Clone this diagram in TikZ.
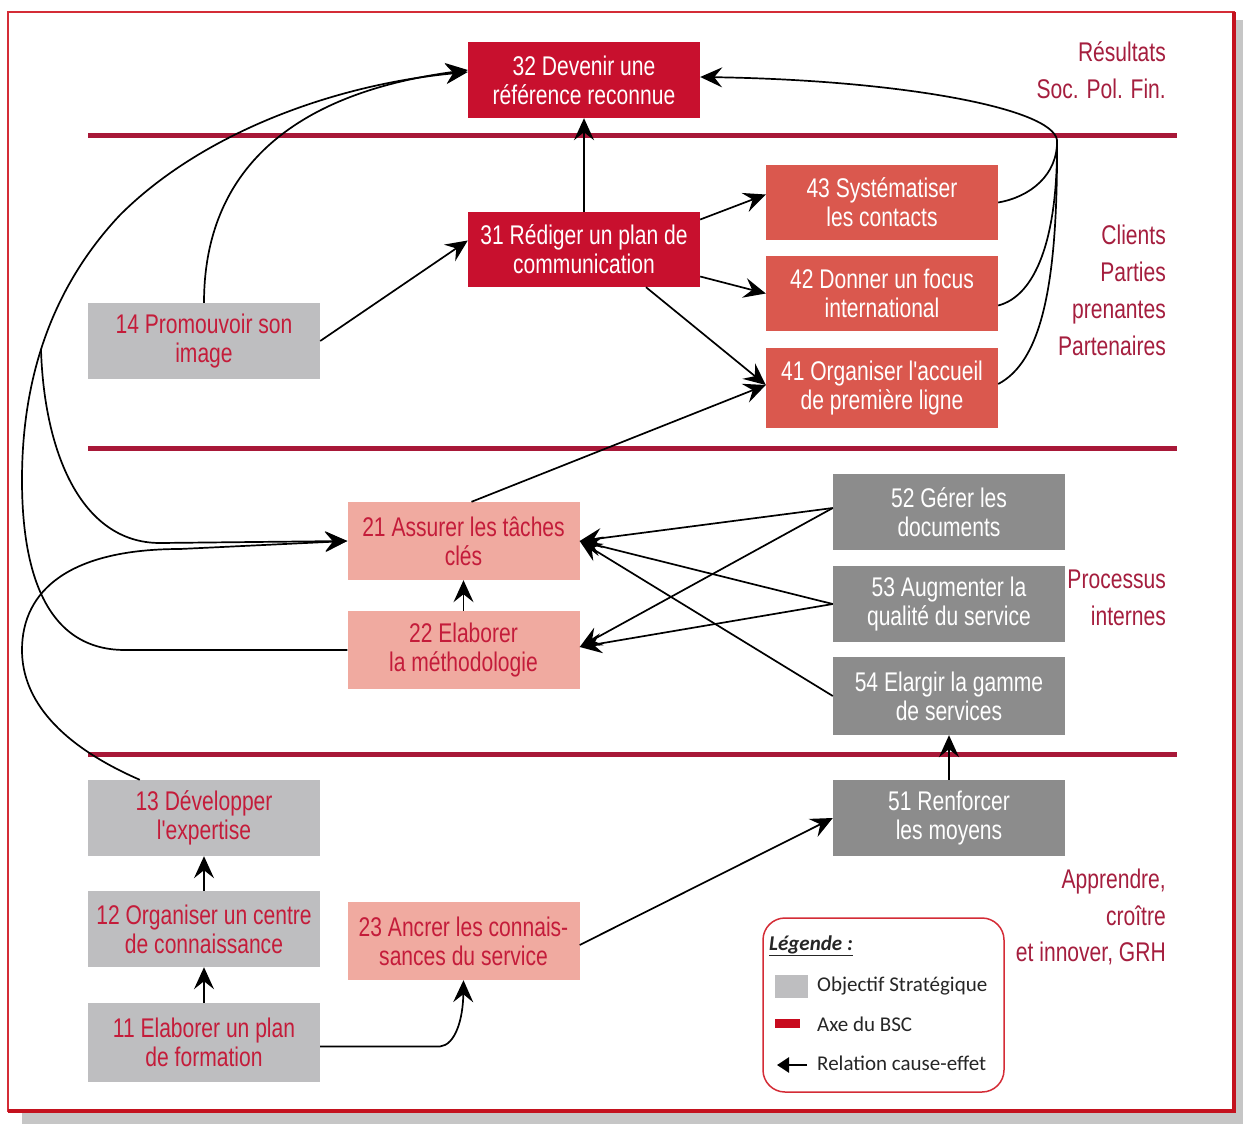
\documentclass[tikz,border=0pt]{standalone}
\usepackage{fontspec}
\usetikzlibrary{arrows.meta,calc}
\newfontfamily\condfont[FakeStretch=0.78]{Liberation Sans}
\newfontfamily\legfont{Carlito}
\definecolor{bscRed}{RGB}{200,16,46}
\definecolor{bscMid}{RGB}{218,88,78}
\definecolor{bscSalmon}{RGB}{240,170,160}
\definecolor{bscLight}{RGB}{190,190,192}
\definecolor{bscDark}{RGB}{140,140,140}
\definecolor{axisRed}{RGB}{168,24,56}
\definecolor{txtRed}{RGB}{196,28,58}
\definecolor{lblRed}{RGB}{165,30,62}
\definecolor{frameRed}{RGB}{212,44,54}
\definecolor{frameDark}{RGB}{196,18,30}
\definecolor{shadowGray}{RGB}{198,198,198}
\definecolor{legBar}{RGB}{200,10,30}

\begin{document}
\begin{tikzpicture}[x=1pt,y=-1pt,
  box/.style={rectangle, minimum width=232pt, minimum height=76pt, inner sep=0pt,
    align=center, font=\condfont\fontsize{27}{29}\selectfont},
  resbox/.style={box, fill=bscRed, text=white},
  clibox/.style={box, fill=bscMid, text=white},
  probox/.style={box, fill=bscSalmon, text=txtRed},
  objbox/.style={box, fill=bscLight, text=txtRed},
  resgray/.style={box, fill=bscDark, text=white},
  axisline/.style={axisRed, line width=5pt},
  link/.style={black, line width=1.7pt},
  arr/.style={link, -{Stealth[length=22pt,width=20pt,inset=8pt]}},
  lbl/.style={anchor=base east, inner sep=0pt, text=lblRed,
    font=\condfont\fontsize{27}{29}\selectfont},
  legtxt/.style={anchor=west, inner sep=0pt, text=black!85,
    font=\legfont\fontsize{21}{24}\selectfont}
]
\useasboundingbox (0,0) rectangle (1243,1124);

% page, drop shadow and frame
\fill[white] (0,0) rectangle (1243,1124);
\fill[shadowGray] (22,20) rectangle (1243,1124);
\fill[white] (8,12) rectangle (1234,1111);
\draw[frameRed, line width=1.6pt] (8,12) rectangle (1234,1111);
\draw[frameDark, line width=3.5pt] (1234,12) -- (1234,1111) -- (8,1111);

% BSC axes
\draw[axisline] (88,135) -- (1177,135);
\draw[axisline] (88,448) -- (1177,448);
\draw[axisline] (88,754) -- (1177,754);

% perspective labels
\foreach \txt/\yy [count=\i] in {Résultats/62, Soc. Pol. Fin./99,
    Clients/244, Parties/281, prenantes/318, Partenaires/355,
    Processus/588, internes/625,
    {Apprendre,}/888, croître/925, {et innover, GRH}/961}
  \node[lbl] (lab\i) at (1166,\yy) {\txt};

% objectives
\node[resbox] (n32) at (584,80) {32 Devenir une\\référence reconnue};
\node[resbox, minimum height=75pt] (n31) at (584,249.5) {31 Rédiger un plan de\\communication};
\node[clibox, minimum height=75pt] (n43) at (882,202.5) {43 Systématiser\\les contacts};
\node[clibox, minimum height=75pt] (n42) at (882,293.5) {42 Donner un focus\\international};
\node[clibox, minimum height=80pt] (n41) at (882,388) {41 Organiser l'accueil\\de première ligne};
\node[objbox] (n14) at (204,341) {14 Promouvoir son\\image};
\node[probox, minimum height=78pt] (n21) at (463.5,541) {21 Assurer les tâches\\clés};
\node[probox, minimum height=78pt] (n22) at (463.5,650) {22 Elaborer\\la méthodologie};
\node[probox, minimum height=78pt] (n23) at (463.5,941) {23 Ancrer les connais-\\sances du service};
\node[resgray] (n52) at (949,512) {52 Gérer les\\documents};
\node[resgray] (n53) at (949,604) {53 Augmenter la\\qualité du service};
\node[resgray, minimum height=78pt] (n54) at (949,696) {54 Elargir la gamme\\de services};
\node[resgray] (n51) at (949,818) {51 Renforcer\\les moyens};
\node[objbox] (n13) at (204,818) {13 Développer\\l'expertise};
\node[objbox] (n12) at (204,929) {12 Organiser un centre\\de connaissance};
\node[objbox, minimum height=79pt] (n11) at (204,1042.5) {11 Elaborer un plan\\de formation};

% cause-effect relations
\draw[arr] (n31.north) -- (n32.south);
\draw[arr] (n14.east) -- ($(n31.west)+(0,-9)$);
\draw[arr] (n14.north) .. controls (204,180) and (280,95) .. ($(n32.west)+(0,-10)$);
\draw[arr] (n22.west) -- (125,650) .. controls (40,650) and (22,560) .. (22,480)
  .. controls (22,400) and (40,300) .. (120,215) coordinate[pos=0.5] (fork)
  .. controls (200,135) and (330,85) .. ($(n32.west)+(0,-8)$);
\draw[arr] (fork) .. controls (44,450) and (80,543) .. (160,543) -- (n21.west);
\draw[arr] ($(n13.north west)+(52,0)$) .. controls (60,745) and (22,700) .. (22,650)
  .. controls (22,590) and (70,549) .. (180,549) -- (n21.west);

\draw[arr] ($(n21.north)+(8,0)$) -- ($(n41.west)+(0,-3)$);
\draw[arr] ($(n31.south)+(62,0)$) -- ($(n41.west)+(0,-3)$);
\draw[arr] ($(n31.east)+(0,-30)$) -- ($(n43.west)+(0,-8)$);
\draw[arr] ($(n31.east)+(0,27)$) -- (n42.west);

\draw[arr] (n43.east) .. controls (1030,197) and (1058,175) .. (1057,140) coordinate (rjoin)
  .. controls (1052,108) and (900,80) .. ($(n32.east)+(0,-3)$);
\draw[link] ($(n42.east)+(0,12)$) .. controls (1035,296) and (1058,240) .. (rjoin);
\draw[link] ($(n41.east)+(0,-4)$) .. controls (1040,362) and (1058,290) .. (rjoin);

\draw[arr] (n22.north) -- (n21.south);
\draw[arr] ($(n52.west)+(0,-4)$) -- (n21.east);
\draw[arr] ($(n52.west)+(0,-4)$) -- ($(n22.east)+(0,-3)$);
\draw[arr] (n53.west) -- (n21.east);
\draw[arr] (n53.west) -- ($(n22.east)+(0,-3)$);
\draw[arr] (n54.west) -- (n21.east);

\draw[arr] (n51.north) -- (n54.south);
\draw[arr] ($(n23.east)+(0,4)$) -- (n51.west);
\draw[arr] ($(n11.east)+(0,4)$) -- (440,1046.5) .. controls (455,1045) and (463,1020) .. (n23.south);
\draw[arr] (n11.north) -- (n12.south);
\draw[arr] (n12.north) -- (n13.south);

% legend
\draw[frameRed, line width=1.5pt, rounded corners=22pt, fill=white] (763,918) rectangle (1004,1092);
\node[legtxt] (legT) at (769,946) {\bfseries\itshape\underline{Légende :}};
\fill[bscLight] (775,975) rectangle (808,998);
\node[legtxt] (legA) at (817,986) {Objectif Stratégique};
\fill[legBar] (775,1019) rectangle (800,1028);
\node[legtxt] (legB) at (817,1024) {Axe du BSC};
\coordinate (legTail) at (807,1065);
\coordinate (legHead) at (777,1065);
\draw[black, line width=2.5pt, -{Triangle[length=12pt,width=15pt]}] (legTail) -- (legHead);
\node[legtxt] (legC) at (817,1063) {Relation cause-effet};
\end{tikzpicture}
\end{document}
